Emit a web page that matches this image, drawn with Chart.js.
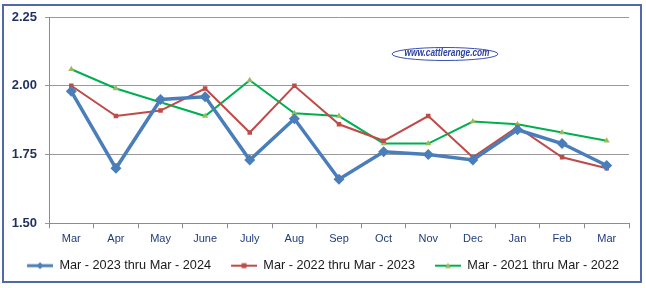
<!DOCTYPE html>
<html>
<head>
<meta charset="utf-8">
<script src="https://cdn.jsdelivr.net/npm/chart.js@4.4.1/dist/chart.umd.min.js"></script>
<style>
  html, body { margin: 0; padding: 0; background: #fff; }
  #wrap { width: 646px; height: 288px; }
</style>
</head>
<body>
<div id="wrap"><canvas id="cattleChart" width="646" height="288"></canvas></div>
<script>
// Dados do gráfico
const months = ['Mar', 'Apr', 'May', 'June', 'July', 'Aug', 'Sep', 'Oct', 'Nov', 'Dec', 'Jan', 'Feb', 'Mar'];
const season2023 = [1.98, 1.70, 1.95, 1.96, 1.73, 1.88, 1.66, 1.76, 1.75, 1.73, 1.84, 1.79, 1.71];
const season2022 = [2.00, 1.89, 1.91, 1.99, 1.83, 2.00, 1.86, 1.80, 1.89, 1.74, 1.85, 1.74, 1.70];
const season2021 = [2.06, 1.99, 1.94, 1.89, 2.02, 1.90, 1.89, 1.79, 1.79, 1.87, 1.86, 1.83, 1.80];
const seriesNames = ['Mar - 2023 thru Mar - 2024', 'Mar - 2022 thru Mar - 2023', 'Mar - 2021 thru Mar - 2022'];
const yTicks = [1.50, 1.75, 2.00, 2.25];

// Ícone da legenda: linha + marcador (espaço vazio à esquerda)
function legendIcon(color, markerColor, shape, lw) {
  const c = document.createElement('canvas');
  c.width = 40; c.height = 10;
  const g = c.getContext('2d');
  g.strokeStyle = color; g.lineWidth = lw;
  g.beginPath(); g.moveTo(14, 5); g.lineTo(40, 5); g.stroke();
  g.fillStyle = markerColor;
  g.beginPath();
  if (shape === 'diamond') {
    g.moveTo(27, 1.5); g.lineTo(30.5, 5); g.lineTo(27, 8.5); g.lineTo(23.5, 5);
  } else if (shape === 'square') {
    g.rect(24.5, 2.5, 5, 5);
  } else {
    g.moveTo(27, 2); g.lineTo(30, 7.5); g.lineTo(24, 7.5);
  }
  g.closePath(); g.fill();
  return c;
}

// Moldura e marca d'água
const framePlugin = {
  id: 'frame',
  beforeDraw(chart) {
    const g = chart.ctx;
    g.save();
    g.fillStyle = '#fff';
    g.fillRect(0, 0, chart.width, chart.height);
    g.strokeStyle = '#4f6aa6';
    g.lineWidth = 2;
    g.strokeRect(3, 5, 638, 277);
    g.restore();
  },
  afterDatasetsDraw(chart) {
    const g = chart.ctx;
    g.save();
    g.strokeStyle = '#3b50b5';
    g.lineWidth = 1;
    g.beginPath();
    g.ellipse(445, 54, 53, 6.5, 0, 0, Math.PI * 2);
    g.stroke();
    g.fillStyle = '#2c3f9c';
    g.font = 'italic bold 11px "Liberation Sans", sans-serif';
    g.textAlign = 'center';
    g.textBaseline = 'middle';
    g.fillText('www.cattlerange.com', 447, 53, 85);
    g.restore();
  }
};

const ctx = document.getElementById('cattleChart').getContext('2d');
const cattleChart = new Chart(ctx, {
  type: 'line',
  data: {
    labels: months,
    datasets: [{
      label: seriesNames[0],
      data: season2023,
      borderColor: '#4a7ebb',
      backgroundColor: '#4a7ebb',
      borderWidth: 3.5,
      pointStyle: 'rectRot',
      pointRadius: 5.5,
      pointBorderWidth: 0,
      tension: 0,
      order: 1
    }, {
      label: seriesNames[1],
      data: season2022,
      borderColor: '#be4b48',
      backgroundColor: '#be4b48',
      borderWidth: 2,
      pointStyle: 'rect',
      pointRadius: 3.2,
      pointBorderWidth: 0,
      tension: 0,
      order: 2
    }, {
      label: seriesNames[2],
      data: season2021,
      borderColor: '#00b050',
      backgroundColor: '#9bbb59',
      borderWidth: 2,
      pointStyle: 'triangle',
      pointRadius: 3.5,
      pointBorderWidth: 0,
      tension: 0,
      order: 3
    }]
  },
  options: {
    responsive: false,
    animation: false,
    layout: { padding: { left: 0, right: 14, top: 17, bottom: 6 } },
    plugins: {
      tooltip: { enabled: false },
      legend: {
        position: 'bottom',
        labels: {
          usePointStyle: true,
          pointStyleWidth: 40,
          boxHeight: 10,
          padding: 6,
          color: '#1a1a1a',
          font: { family: '"Liberation Sans", sans-serif', size: 12.7 },
          generateLabels(chart) {
            const icons = [
              legendIcon('#4a7ebb', '#4a7ebb', 'diamond', 3),
              legendIcon('#be4b48', '#be4b48', 'square', 2),
              legendIcon('#00b050', '#9bbb59', 'triangle', 2)
            ];
            return chart.data.datasets.map((ds, i) => ({
              text: ds.label,
              pointStyle: icons[i],
              fillStyle: ds.borderColor,
              strokeStyle: ds.borderColor,
              lineWidth: 0,
              hidden: false,
              datasetIndex: i,
              fontColor: '#1a1a1a'
            }));
          }
        }
      }
    },
    scales: {
      x: {
        offset: true,
        grid: { offset: true, drawOnChartArea: false, drawTicks: true, tickLength: 5, color: '#8c8c8c' },
        border: { color: '#8c8c8c' },
        ticks: {
          color: '#1f3c7a',
          padding: 4,
          maxRotation: 0,
          autoSkip: false,
          font: { family: '"Liberation Sans", sans-serif', size: 11 }
        },
        afterFit(scale) { scale.height = 30; }
      },
      y: {
        min: 1.5,
        max: 2.25,
        afterBuildTicks(scale) { scale.ticks = yTicks.map(v => ({ value: v })); },
        grid: { color: '#9a9a9a', tickLength: 4, drawTicks: true },
        border: { color: '#8c8c8c' },
        ticks: {
          color: '#1f2f5e',
          padding: 8,
          font: { family: '"Liberation Sans", sans-serif', size: 13, weight: 'bold' },
          callback: v => Number(v).toFixed(2)
        },
        afterFit(scale) { scale.width = 49; }
      },
      // eixo vazio à direita, só para a margem
      yRight: {
        position: 'right',
        display: true,
        grid: { display: false, drawTicks: false },
        border: { display: false },
        ticks: { display: false },
        afterFit(scale) { scale.width = 3; }
      }
    }
  },
  plugins: [framePlugin]
});
</script>
</body>
</html>
